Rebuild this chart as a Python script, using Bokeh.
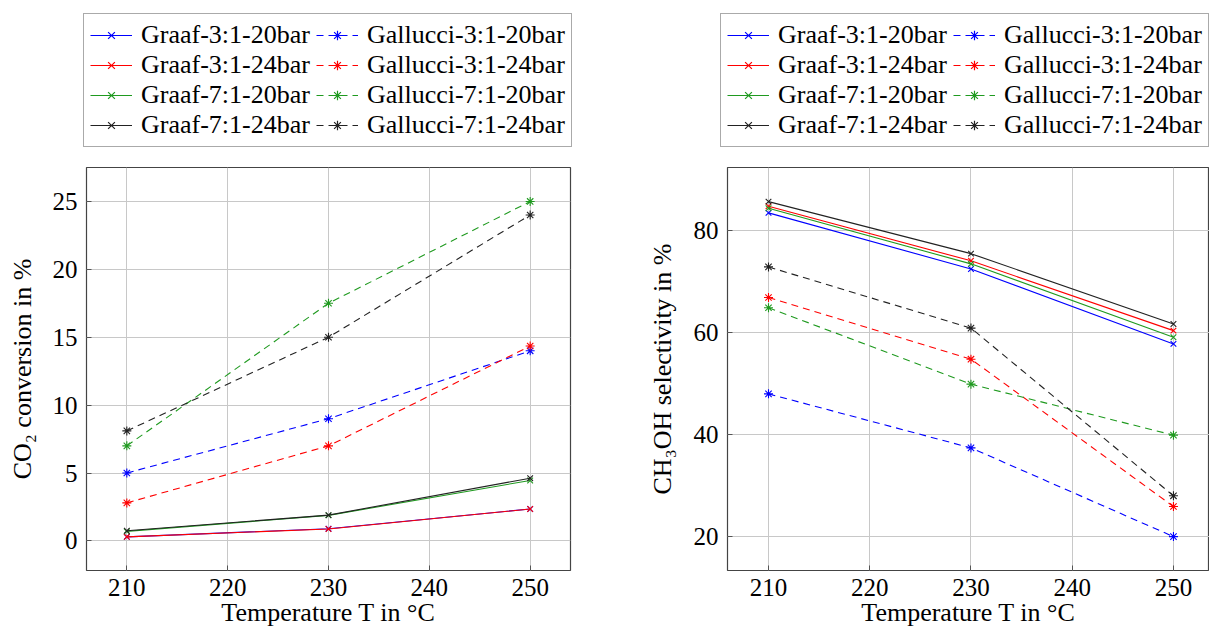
from bokeh.plotting import figure
from bokeh.models import Legend, LegendItem, FixedTicker, Range1d
from bokeh.layouts import row, column
from bokeh.embed import file_html
from bokeh.resources import INLINE

# ---- data ----
temps = [210, 230, 250]
x_ticks = [210, 220, 230, 240, 250]

# CO2 conversion (%)
conv_graaf_3_20 = [0.3, 0.9, 2.35]
conv_graaf_3_24 = [0.3, 0.88, 2.35]
conv_graaf_7_20 = [0.7, 1.88, 4.45]
conv_graaf_7_24 = [0.75, 1.9, 4.62]
conv_gall_3_20 = [5.0, 9.0, 14.0]
conv_gall_3_24 = [2.8, 7.0, 14.35]
conv_gall_7_20 = [7.0, 17.5, 25.0]
conv_gall_7_24 = [8.1, 15.0, 24.0]
conv_ticks = [0, 5, 10, 15, 20, 25]

# CH3OH selectivity (%)
sel_graaf_3_20 = [83.5, 72.5, 57.8]
sel_graaf_3_24 = [84.8, 74.1, 60.4]
sel_graaf_7_20 = [84.4, 73.5, 59.1]
sel_graaf_7_24 = [85.7, 75.5, 61.7]
sel_gall_3_20 = [48.0, 37.4, 20.0]
sel_gall_3_24 = [66.9, 54.8, 25.9]
sel_gall_7_20 = [64.9, 49.9, 39.9]
sel_gall_7_24 = [72.9, 60.9, 28.0]
sel_ticks = [20, 40, 60, 80]

labels_graaf = ["Graaf-3:1-20bar", "Graaf-3:1-24bar", "Graaf-7:1-20bar", "Graaf-7:1-24bar"]
labels_gall = ["Gallucci-3:1-20bar", "Gallucci-3:1-24bar", "Gallucci-7:1-20bar", "Gallucci-7:1-24bar"]
colors = ["#0000ff", "#ff0000", "#1f9a1f", "#222222"]

FONT = "Liberation Serif"
x_label = "Temperature T in °C"

LEG_H = 159
MAIN_H = 475
DASH = "7 5"


def style_axis(ax):
    ax.axis_line_color = None
    ax.major_tick_in = 5
    ax.major_tick_out = 0
    ax.major_tick_line_color = "#555555"
    ax.minor_tick_line_color = None
    ax.major_label_text_font = FONT
    ax.major_label_text_font_size = "25px"
    ax.major_label_text_color = "black"
    ax.axis_label_text_font = FONT
    ax.axis_label_text_font_size = "26px"
    ax.axis_label_text_font_style = "normal"
    ax.axis_label_text_color = "black"


def add_legend(q, graaf, gall, leg_x):
    # renderers carry the real series but lie outside this legend-only view
    items = []
    for i in range(4):
        l1 = q.line(temps, graaf[i], line_color=colors[i], line_width=1.2)
        s1 = q.scatter(temps, graaf[i], marker="x", size=7, line_color=colors[i], line_width=1.2)
        l2 = q.line(temps, gall[i], line_color=colors[i], line_width=1.2, line_dash=DASH)
        s2 = q.scatter(temps, gall[i], marker="asterisk", size=8, line_color=colors[i], line_width=1.2)
        items.append(LegendItem(label=labels_graaf[i], renderers=[l1, s1]))
        items.append(LegendItem(label=labels_gall[i], renderers=[l2, s2]))
    leg = Legend(items=items, orientation="horizontal", ncols=2,
                 location=(leg_x, LEG_H - 147),
                 margin=0, padding=6, spacing=0, glyph_width=42, glyph_height=24,
                 label_height=24, label_width=175, label_standoff=9,
                 label_text_font=FONT, label_text_font_size="26px",
                 label_text_color="black",
                 border_line_color="#555555", border_line_width=1.2,
                 background_fill_color="white", background_fill_alpha=1.0)
    q.add_layout(leg)


def make_fig(width, mbl, mbr, xr, yr, yticks, ylabel, graaf, gall, ylab_standoff):
    p = figure(width=width, height=MAIN_H, x_range=Range1d(*xr), y_range=Range1d(*yr),
               output_backend="svg", toolbar_location=None,
               min_border_left=mbl, min_border_right=mbr,
               min_border_top=8, min_border_bottom=MAIN_H - 8 - 403)
    p.background_fill_color = "white"
    p.border_fill_color = "white"
    p.outline_line_color = "#444444"
    p.outline_line_width = 1.2

    for vals, c in zip(graaf, colors):
        p.line(temps, vals, line_color=c, line_width=1.1)
        p.scatter(temps, vals, marker="x", size=8, line_color=c, line_width=1.1)
    for vals, c in zip(gall, colors):
        p.line(temps, vals, line_color=c, line_width=1.1, line_dash=DASH)
        p.scatter(temps, vals, marker="asterisk", size=9, line_color=c, line_width=1.1)

    p.xaxis.ticker = FixedTicker(ticks=x_ticks)
    p.yaxis.ticker = FixedTicker(ticks=yticks)
    style_axis(p.xaxis[0])
    style_axis(p.yaxis[0])
    p.xaxis.axis_label = x_label
    p.yaxis.axis_label = ylabel
    p.xaxis.major_label_standoff = 8
    p.xaxis.axis_label_standoff = -1
    p.yaxis.major_label_standoff = 9
    p.yaxis.axis_label_standoff = ylab_standoff

    p.grid.grid_line_color = "#c8c8c8"
    p.grid.grid_line_width = 1
    return p


conv_graaf = [conv_graaf_3_20, conv_graaf_3_24, conv_graaf_7_20, conv_graaf_7_24]
conv_gall = [conv_gall_3_20, conv_gall_3_24, conv_gall_7_20, conv_gall_7_24]
sel_graaf = [sel_graaf_3_20, sel_graaf_3_24, sel_graaf_7_20, sel_graaf_7_24]
sel_gall = [sel_gall_3_20, sel_gall_3_24, sel_gall_7_20, sel_gall_7_24]

legfig = figure(width=1209, height=LEG_H, x_range=Range1d(0, 1), y_range=Range1d(0, 1),
                output_backend="svg", toolbar_location=None,
                x_axis_location=None, y_axis_location=None,
                min_border=0, min_border_left=0, min_border_right=0,
                min_border_top=0, min_border_bottom=0)
legfig.outline_line_color = None
legfig.grid.visible = False
add_legend(legfig, conv_graaf, conv_gall, 83)
add_legend(legfig, sel_graaf, sel_gall, 720)

p1 = make_fig(632, 86, 62, (206, 254), (-2.18, 27.5), conv_ticks, "CO₂ conversion in %",
              conv_graaf, conv_gall, 13)
p2 = make_fig(577, 95, 0, (205.95, 253.56), (13.35, 92.4), sel_ticks, "CH₃OH selectivity in %",
              sel_graaf, sel_gall, 14)

layout = column(legfig, row(p1, p2))
open("out.html", "w").write(file_html(layout, INLINE))
